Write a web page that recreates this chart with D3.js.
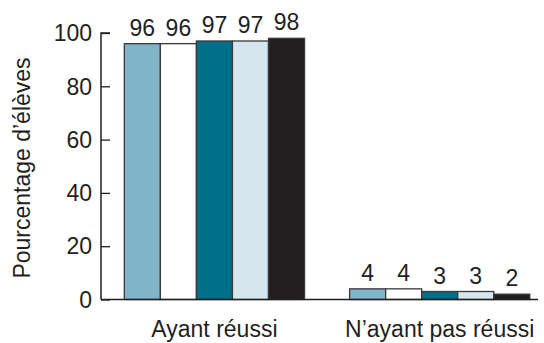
<!DOCTYPE html>
<html><head><meta charset="utf-8">
<script src="https://cdn.jsdelivr.net/npm/d3@7"></script>
<style>body{margin:0;background:#fff}svg{display:block}text{font-family:"Liberation Sans",Arial,Helvetica,sans-serif;fill:#231f20}</style>
</head><body>
<svg id="c" width="544" height="343"></svg>
<script>
const categories = ["Ayant réussi", "N’ayant pas réussi"];
const seriesNames = ["S1", "S2", "S3", "S4", "S5"];
const seriesColors = ["#80b4c9", "#ffffff", "#006f8a", "#d6e6ef", "#231f20"];
const values = [
  [96, 96, 97, 97, 98],
  [4, 4, 3, 3, 2]
];
const yTicks = [0, 20, 40, 60, 80, 100];
const yLabel = "Pourcentage d’élèves";

const svg = d3.select("#c");
const x0 = d3.scaleBand().domain(categories).range([101, 538]).paddingInner(0.2).paddingOuter(0.07).align(0.74);
const x1 = d3.scaleBand().domain(seriesNames).range([0, x0.bandwidth()]).padding(0);
const y = d3.scaleLinear().domain([0, 100]).range([299.5, 33]);

// bars
categories.forEach((c, ci) => {
  const g = svg.append("g").attr("transform", `translate(${x0(c)},0)`);
  seriesNames.forEach((s, si) => {
    const v = values[ci][si];
    g.append("rect")
      .attr("x", x1(s)).attr("y", y(v))
      .attr("width", x1.bandwidth()).attr("height", y(0) - y(v))
      .attr("fill", seriesColors[si]).attr("stroke", "#3a3a3a").attr("stroke-width", 1.3);
    g.append("text")
      .attr("x", x1(s) + x1.bandwidth() / 2).attr("y", y(v) - 8)
      .attr("text-anchor", "middle").attr("font-size", 23).text(v);
  });
});

// y axis
const yAxis = d3.axisRight(y).tickValues(yTicks).tickSize(9).tickFormat("");
const ga = svg.append("g").attr("transform", "translate(101,0)").call(yAxis);
ga.select(".domain").attr("d", `M9,${y(100)}H0V${y(0)}`).attr("stroke", "#231f20").attr("stroke-width", 1.5);
ga.selectAll(".tick line").attr("stroke", "#231f20").attr("stroke-width", 1.3);
svg.selectAll(".ylab").data(yTicks).join("text")
  .attr("x", 92).attr("y", d => y(d)).attr("dy", "0.36em")
  .attr("text-anchor", "end").attr("font-size", 23).text(d => d);

// baseline
svg.append("line").attr("x1", 101).attr("x2", 538).attr("y1", y(0)).attr("y2", y(0))
  .attr("stroke", "#231f20").attr("stroke-width", 1.5);

// category labels
svg.selectAll(".clab").data(categories).join("text")
  .attr("x", d => x0(d) + x0.bandwidth() / 2).attr("y", 337)
  .attr("text-anchor", "middle").attr("font-size", 23).text(d => d);

// y label
svg.append("text").attr("transform", "translate(30,168) rotate(-90)")
  .attr("text-anchor", "middle").attr("font-size", 23).text(yLabel);
</script>
</body></html>
